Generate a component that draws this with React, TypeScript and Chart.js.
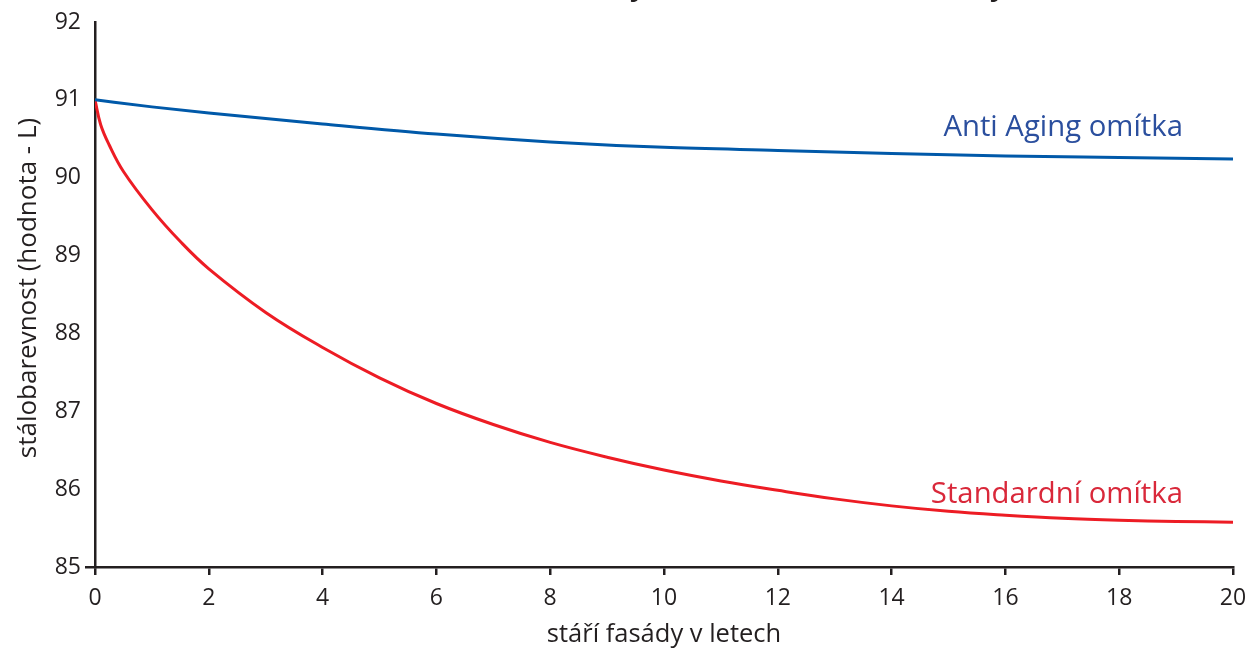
import React, { useEffect, useRef } from "react";
import { Chart, registerables } from "chart.js";

Chart.register(...registerables);

// ---- data ----
const standardYears = [0, 0.1, 0.25, 0.5, 1, 1.5, 2, 3, 4, 5, 6, 7, 8, 9, 10, 11, 12, 13, 14, 15, 16, 17, 18, 19, 20];
const standardValues = [91.0, 90.68, 90.42, 90.08, 89.59, 89.18, 88.83, 88.27, 87.82, 87.43, 87.1, 86.83, 86.6, 86.41, 86.245, 86.105, 85.985, 85.875, 85.785, 85.715, 85.665, 85.625, 85.6, 85.585, 85.575];

const antiAgingYears = [0, 1, 2, 4, 6, 8, 10, 12, 14, 16, 18, 20];
const antiAgingValues = [91.0, 90.91, 90.83, 90.69, 90.56, 90.46, 90.39, 90.35, 90.31, 90.28, 90.26, 90.24];

const seriesNames = ["Anti Aging omítka", "Standardní omítka"];
// label anchors (data coordinates: right edge x, baseline y)
const labelX = [19.12, 19.12];
const labelY = [90.54, 85.82];

const chartTitle = "Stálobarevnost omítky v závislosti na stáří fasády";
const xTitle = "stáří fasády v letech";
const yTitle = "\u2002stálobarevnost (hodnota - L)";

const FONT = '"Open Sans", "Noto Sans", sans-serif';
const INK = "#231f20";
const BLUE = "#0059a9";
const RED = "#ed1c24";
const BLUE_TEXT = "#2b4f9e";
const RED_TEXT = "#d9283a";

const textPlugin = {
  id: "textPlugin",
  afterDatasetsDraw(chart: any) {
    const { ctx, chartArea, scales } = chart;
    ctx.save();
    // title (mostly above the visible area)
    ctx.font = `bold 27px ${FONT}`;
    ctx.fillStyle = INK;
    ctx.textAlign = "center";
    ctx.textBaseline = "alphabetic";
    ctx.fillText(chartTitle, (chartArea.left + chartArea.right) / 2 + 8, -4);
    // series labels
    ctx.font = `29.3px ${FONT}`;
    ctx.textAlign = "right";
    const colors = [BLUE_TEXT, RED_TEXT];
    seriesNames.forEach((name, i) => {
      ctx.fillStyle = colors[i];
      ctx.fillText(name, scales.x.getPixelForValue(labelX[i]), scales.y.getPixelForValue(labelY[i]));
    });
    ctx.restore();
  },
};

export default function App() {
  const ref = useRef<HTMLCanvasElement>(null);
  useEffect(() => {
    const canvas = ref.current!;
    const chart = new Chart(canvas, {
      type: "line",
      data: {
        datasets: [
          {
            label: seriesNames[0],
            data: antiAgingYears.map((x, i) => ({ x, y: antiAgingValues[i] })),
            borderColor: BLUE,
            borderWidth: 3,
            pointRadius: 0,
            cubicInterpolationMode: "monotone",
            fill: false,
          },
          {
            label: seriesNames[1],
            data: standardYears.map((x, i) => ({ x, y: standardValues[i] })),
            borderColor: RED,
            borderWidth: 3,
            pointRadius: 0,
            tension: 0.4,
            fill: false,
          },
        ],
      },
      options: {
        responsive: false,
        animation: false,
        devicePixelRatio: 1,
        layout: { padding: { top: 22, right: 47, left: 0, bottom: 0 } },
        plugins: {
          legend: { display: false },
          tooltip: { enabled: false },
          title: { display: false },
        },
        scales: {
          x: {
            type: "linear",
            min: 0,
            max: 20,
            ticks: {
              stepSize: 2,
              color: INK,
              font: { family: FONT, size: 23 },
              padding: 10,
              maxRotation: 0,
              autoSkip: false,
            },
            grid: {
              drawOnChartArea: false,
              drawTicks: true,
              tickLength: 8,
              color: INK,
              lineWidth: 2.5,
            },
            border: { display: true, color: INK, width: 2.5 },
            title: {
              display: true,
              text: xTitle,
              color: INK,
              font: { family: FONT, size: 25.5, lineHeight: 1.05 },
              padding: { top: 0, bottom: 0 },
            },
            afterFit: (s: any) => {
              s.height = 81;
            },
          },
          y: {
            type: "linear",
            min: 85,
            max: 92,
            ticks: {
              stepSize: 1,
              color: INK,
              font: { family: FONT, size: 23 },
              padding: 4,
            },
            grid: {
              drawOnChartArea: false,
              drawTicks: true,
              tickLength: 10,
              lineWidth: 2.5,
              color: (c: any) => (c.tick && c.tick.value === 85 ? INK : "rgba(0,0,0,0)"),
            },
            border: { display: true, color: INK, width: 2.5 },
            title: {
              display: true,
              text: yTitle,
              color: INK,
              font: { family: FONT, size: 26 },
              padding: { top: 13, bottom: 0 },
            },
            afterFit: (s: any) => {
              s.width = 95;
            },
          },
        },
      },
      plugins: [textPlugin],
    } as any);
    return () => chart.destroy();
  }, []);

  return (
    <div
      style={{
        position: "fixed",
        left: 0,
        top: 0,
        width: 1248,
        height: 648,
        overflow: "hidden",
        background: "#fff",
      }}
    >
      <canvas ref={ref} width={1280} height={648} style={{ display: "block" }} />
    </div>
  );
}
